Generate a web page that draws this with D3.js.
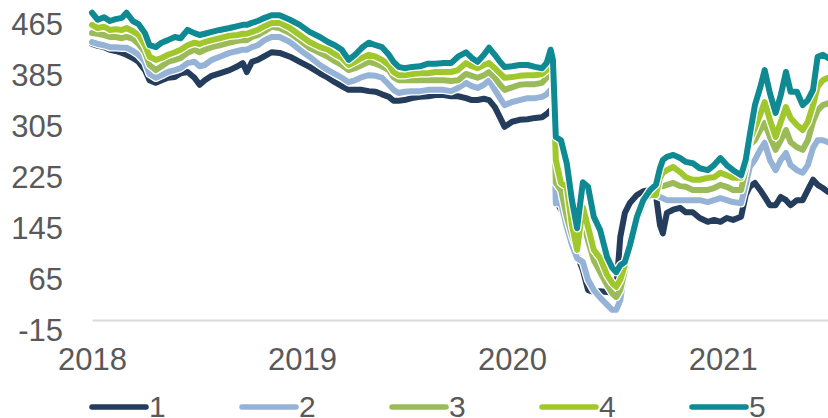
<!DOCTYPE html>
<html>
<head>
<meta charset="utf-8">
<script src="https://cdn.jsdelivr.net/npm/d3@7"></script>
<style>
  html, body { margin: 0; padding: 0; background: #fff; }
  svg { display: block; }
  text { font-family: "Liberation Sans", Arial, sans-serif; fill: #595959; }
</style>
</head>
<body>
<svg id="chart" width="828" height="418"></svg>
<script>
const dates = ["2018-01-01","2018-01-11","2018-01-22","2018-02-01","2018-02-11","2018-02-22","2018-03-02","2018-03-13","2018-03-23","2018-04-03",
"2018-04-11","2018-04-22","2018-05-02","2018-05-13","2018-05-25","2018-06-04","2018-06-16","2018-06-28","2018-07-07","2018-07-16",
"2018-07-28","2018-08-11","2018-08-28","2018-09-11","2018-09-20","2018-09-27","2018-10-06","2018-10-16","2018-10-28","2018-11-09",
"2018-11-23","2018-12-11","2018-12-28","2019-01-14","2019-02-01","2019-02-15","2019-02-27","2019-03-11","2019-03-23","2019-04-03",
"2019-04-15","2019-04-27","2019-05-09","2019-05-20","2019-06-01","2019-06-09","2019-06-18","2019-06-28","2019-07-11","2019-07-25",
"2019-08-08","2019-08-21","2019-09-04","2019-09-17","2019-09-29","2019-10-13","2019-10-23","2019-11-02","2019-11-13","2019-11-22",
"2019-12-02","2019-12-11","2019-12-19","2020-01-01","2020-01-14","2020-01-28","2020-02-10","2020-02-22","2020-03-01","2020-03-08",
"2020-03-12","2020-03-17","2020-03-26","2020-04-05","2020-04-14","2020-04-23","2020-05-03","2020-05-12","2020-05-22","2020-06-02",
"2020-06-14","2020-06-23","2020-06-30","2020-07-07","2020-07-15","2020-07-24","2020-08-05","2020-08-16","2020-08-28","2020-09-07",
"2020-09-14","2020-09-19","2020-09-26","2020-10-07","2020-10-19","2020-10-29","2020-11-10","2020-11-22","2020-12-06","2020-12-17",
"2020-12-28","2021-01-08","2021-01-19","2021-02-02","2021-02-10","2021-02-17","2021-02-26","2021-03-07","2021-03-15","2021-03-24",
"2021-04-03","2021-04-12","2021-04-21","2021-04-29","2021-05-10","2021-05-20","2021-05-29","2021-06-07","2021-06-15","2021-06-24",
"2021-07-03"];

const series1 = [418,415,413,409,407,404,401,396,390,377,361,357,361,365,366,372,374,365,354,361,
368,372,377,383,388,374,390,393,399,405,404,398,390,382,372,365,358,352,346,346,
346,344,343,339,335,329,329,330,333,335,336,338,338,336,336,333,330,330,332,330,
319,303,288,296,299,300,302,303,308,314,311,173,158,147,111,87,63,32,29,30,
29,27,32,115,153,169,181,187,189,181,134,121,153,158,161,154,154,145,139,142,
139,145,142,147,181,194,200,189,178,165,165,178,173,165,173,173,189,205,197,192,
186];

const series2 = [421,418,416,413,413,412,412,407,401,390,371,365,369,374,377,380,388,390,383,385,
393,398,404,407,409,409,413,416,424,429,429,421,409,398,385,377,371,365,358,361,
366,369,368,365,354,346,341,343,344,344,346,346,346,344,349,357,352,349,354,361,
346,333,322,327,330,333,333,335,339,346,343,168,168,131,103,82,76,48,32,20,
9,1,1,16,63,103,142,165,181,181,178,176,173,173,173,173,173,173,170,173,
176,173,170,168,197,225,236,252,263,236,220,236,247,228,220,216,228,255,267,267,
264];

const series3 = [435,434,432,429,429,427,429,426,418,405,385,377,383,390,393,396,404,409,405,409,
413,416,420,423,424,424,429,432,438,445,443,435,424,412,404,398,391,385,377,380,
385,390,387,383,377,366,361,361,361,361,361,361,361,360,361,371,368,365,369,374,
365,354,346,350,354,355,355,357,365,377,368,200,189,147,118,95,142,110,79,60,
40,27,21,32,63,103,150,169,184,189,194,195,197,200,195,194,189,189,189,192,
197,194,189,189,220,260,267,283,294,272,252,267,283,264,256,252,267,296,314,322,
325];

const series4 = [448,443,445,440,441,440,443,438,432,416,398,393,396,401,405,409,416,420,418,421,
424,427,431,432,434,434,437,440,446,451,451,443,432,421,413,409,402,396,385,390,
396,401,398,393,385,374,369,369,371,372,372,374,374,374,377,388,383,380,385,388,
380,372,365,366,368,369,369,371,377,390,380,236,200,194,134,95,162,131,95,82,
56,43,37,48,71,110,150,173,181,181,208,216,220,225,217,209,205,205,208,209,
216,212,208,208,228,267,286,307,327,299,272,296,319,302,291,283,296,322,351,361,
365];

const series5 = [467,456,460,454,457,459,467,454,449,435,416,413,420,424,429,427,440,435,432,434,
437,440,443,446,448,448,451,454,459,463,463,456,448,437,429,421,416,409,393,401,
412,420,416,413,401,390,382,380,382,383,387,387,388,388,398,405,396,390,401,412,
401,390,382,383,385,385,382,380,388,409,393,272,267,231,173,129,201,194,147,126,
84,67,60,71,76,103,147,173,189,197,223,236,241,244,239,233,231,223,220,228,
239,228,220,212,236,275,322,349,377,341,310,338,374,343,343,322,330,346,398,401,
396];

const seriesNames = ["1","2","3","4","5"];
const seriesColors = ["#243d5c","#95b3d7","#9bbb59","#a0c72c","#0f8a93"];
const yTicks = [-15, 65, 145, 225, 305, 385, 465];
const xTickYears = ["2018","2019","2020","2021"];

const allSeries = [series1, series2, series3, series4, series5];
const parse = d3.timeParse("%Y-%m-%d");
const dateObjs = dates.map(parse);

const FONT = "'Liberation Sans', Arial, sans-serif";
const svg = d3.select("#chart");
const x = d3.scaleTime()
  .domain([parse("2018-01-01"), parse("2021-07-03")])
  .range([92, 828]);
const y = d3.scaleLinear().domain([-15, 465]).range([320, 14]);

// Y axis labels
const yAxis = d3.axisLeft(y).tickValues(yTicks).tickSize(0).tickPadding(0).tickFormat(d => String(d));
const gy = svg.append("g").attr("transform", "translate(63,0)").call(yAxis);
gy.select(".domain").remove();
gy.selectAll("text")
  .attr("x", 0).attr("dy", "0.7em").attr("y", -1)
  .style("font-size", "31px").style("fill", "#595959")
  .style("font-family", FONT);

// X axis
const xAxis = d3.axisBottom(x)
  .tickValues(xTickYears.map(s => parse(s + "-01-01")))
  .tickSize(0).tickPadding(0).tickFormat(d3.timeFormat("%Y"));
const gx = svg.append("g").attr("transform", "translate(0,320)").call(xAxis);
gx.select(".domain").attr("stroke", "#d9d9d9").attr("stroke-width", 2);
gx.selectAll("text")
  .attr("y", 50).attr("dy", 0)
  .style("font-size", "31px").style("fill", "#595959")
  .style("font-family", FONT);

// lines
const line = d3.line()
  .x((d, i) => x(dateObjs[i]))
  .y(d => y(d));

const gLines = svg.append("g");
allSeries.forEach((s, k) => {
  gLines.append("path").datum(s)
    .attr("d", line).attr("fill", "none")
    .attr("stroke", "#ffffff").attr("stroke-width", 8.5)
    .attr("stroke-linejoin", "round").attr("stroke-linecap", "round");
  gLines.append("path").datum(s)
    .attr("d", line).attr("fill", "none")
    .attr("stroke", seriesColors[k]).attr("stroke-width", 6)
    .attr("stroke-linejoin", "round").attr("stroke-linecap", "round");
});

// legend
const legendX = d3.scalePoint().domain(seriesNames).range([90, 690]);
const lg = svg.append("g");
seriesNames.forEach((n, k) => {
  const lx = legendX(n);
  lg.append("line")
    .attr("x1", lx + 2).attr("x2", lx + 56)
    .attr("y1", 407).attr("y2", 407)
    .attr("stroke", seriesColors[k]).attr("stroke-width", 5.5)
    .attr("stroke-linecap", "round");
  lg.append("text")
    .attr("x", lx + 59).attr("y", 417)
    .style("font-size", "30px")
    .text(n);
});
</script>
</body>
</html>
